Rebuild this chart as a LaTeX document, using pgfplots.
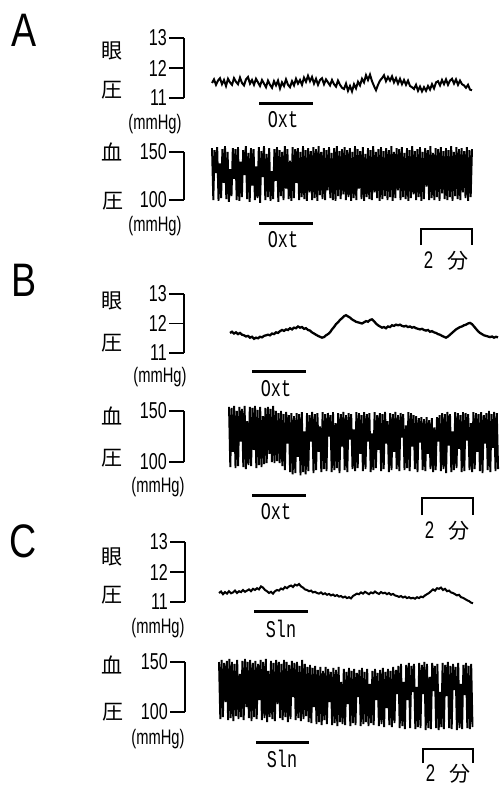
\documentclass[border=0pt]{standalone}
\usepackage{fontspec}
\usepackage{pgfplots}
\pgfplotsset{compat=1.18}
\setmainfont{Liberation Sans}
\newfontfamily\narrow[FakeStretch=0.7]{Liberation Sans}
\newfontfamily\mono[FakeStretch=0.7]{Liberation Mono}
\newfontfamily\cjk{Noto Sans CJK JP}
\newfontfamily\panelfont[FakeStretch=0.8]{Liberation Sans}
\pgfplotsset{
  bracket/.style={
    scale only axis, clip=false,
    axis x line=none, axis y line*=left,
    tick align=outside, major tick length=15pt,
    y axis line style={line width=1.1pt},
    tick style={line width=1.1pt, black},
    yticklabel style={font=\narrow\fontsize{23}{23}\selectfont, inner sep=2pt},
    /pgf/number format/assume math mode=true,
  },
  iop/.style={bracket, ymin=11, ymax=13, ytick={11,12,13}},
  bp/.style={bracket, ymin=100, ymax=150, ytick={100,150}},
  trI/.style={line width=2pt, black},
  trB/.style={line width=1.9pt, black},
}
\newcommand{\jp}[1]{{\cjk\fontsize{21}{21}\selectfont #1}}
\newcommand{\mm}{{\narrow\fontsize{21}{21}\selectfont (mmHg)}}
\newcommand{\lab}[1]{{\mono\fontsize{24}{24}\selectfont #1}}
\newcommand{\twomin}{{\narrow\fontsize{24}{24}\selectfont 2}\hspace{14pt}\jp{分}}
\begin{document}
\begin{tikzpicture}
\useasboundingbox (0,0) rectangle (499pt,-789pt);
% ---------------- Panel A ----------------
\begin{axis}[iop, at={(184pt,-98pt)}, anchor=south west, width=314pt, height=60pt, xmin=184, xmax=498]
\addplot[trI] table[header=false, row sep=\\, x expr=212+2*\coordindex, y index=0] {
11.50\\11.62\\11.44\\11.58\\11.66\\11.46\\11.60\\11.40\\11.64\\11.52\\
11.44\\11.66\\11.54\\11.46\\11.68\\11.50\\11.42\\11.62\\11.70\\11.48\\
11.60\\11.44\\11.64\\11.52\\11.40\\11.60\\11.48\\11.36\\11.58\\11.44\\
11.34\\11.56\\11.42\\11.58\\11.32\\11.52\\11.40\\11.62\\11.44\\11.36\\
11.56\\11.42\\11.64\\11.48\\11.60\\11.44\\11.68\\11.54\\11.74\\11.56\\
11.70\\11.48\\11.64\\11.44\\11.60\\11.66\\11.46\\11.62\\11.52\\11.42\\
11.60\\11.46\\11.38\\11.58\\11.44\\11.34\\11.30\\11.48\\11.24\\11.40\\
11.22\\11.46\\11.32\\11.54\\11.42\\11.64\\11.52\\11.76\\11.60\\11.78\\
11.56\\11.40\\11.26\\11.44\\11.58\\11.66\\11.76\\11.56\\11.70\\11.58\\
11.72\\11.52\\11.66\\11.48\\11.64\\11.46\\11.60\\11.44\\11.58\\11.40\\
11.36\\11.30\\11.44\\11.24\\11.38\\11.22\\11.36\\11.24\\11.40\\11.28\\
11.46\\11.32\\11.52\\11.56\\11.42\\11.60\\11.46\\11.62\\11.44\\11.58\\
11.64\\11.48\\11.62\\11.44\\11.58\\11.46\\11.42\\11.34\\11.44\\11.28\\
11.26\\};
\end{axis}
\begin{axis}[bp, at={(184pt,-200pt)}, anchor=south west, width=314pt, height=48pt, xmin=184, xmax=498]
\addplot[trB] table[header=false, row sep=\\, x expr=212+1.3*\coordindex, y index=0] {
154\\100\\152\\128\\155\\99\\138\\102\\153\\118\\
156\\101\\150\\98\\132\\104\\154\\122\\153\\100\\
155\\99\\140\\103\\152\\126\\156\\101\\149\\98\\
154\\115\\153\\100\\135\\102\\155\\97\\151\\124\\
156\\100\\148\\103\\154\\99\\130\\101\\153\\120\\
155\\98\\152\\104\\150\\100\\156\\112\\153\\101\\
141\\99\\155\\102\\153\\118\\154\\100\\150\\103\\
156\\101\\152\\99\\154\\108\\151\\100\\155\\102\\
153\\99\\156\\105\\150\\101\\154\\100\\152\\110\\
155\\102\\149\\100\\154\\99\\156\\104\\151\\101\\
153\\106\\155\\100\\152\\103\\154\\99\\150\\102\\
156\\100\\153\\112\\151\\101\\155\\99\\148\\103\\
154\\101\\152\\100\\156\\108\\150\\102\\153\\99\\
155\\101\\151\\104\\154\\100\\152\\103\\156\\99\\
150\\102\\154\\110\\153\\100\\155\\103\\149\\101\\
154\\99\\152\\102\\156\\106\\151\\100\\153\\103\\
155\\99\\150\\101\\154\\114\\152\\100\\156\\102\\
149\\100\\154\\103\\153\\99\\155\\107\\151\\101\\
154\\100\\152\\103\\156\\99\\150\\104\\155\\101\\
153\\100\\154\\108\\151\\102\\155\\99\\152\\103\\
153\\};
\end{axis}
% ---------------- Panel B ----------------
\begin{axis}[iop, at={(184pt,-353pt)}, anchor=south west, width=314pt, height=59pt, xmin=184, xmax=498]
\addplot[trI, line width=2.3pt] table[header=false, row sep=\\, x expr=230+2*\coordindex, y index=0] {
11.68\\11.72\\11.66\\11.70\\11.64\\11.68\\11.62\\11.60\\11.56\\11.58\\
11.52\\11.55\\11.48\\11.52\\11.50\\11.55\\11.53\\11.58\\11.60\\11.62\\
11.60\\11.66\\11.64\\11.70\\11.68\\11.74\\11.78\\11.75\\11.80\\11.78\\
11.84\\11.80\\11.86\\11.84\\11.90\\11.86\\11.88\\11.82\\11.84\\11.78\\
11.76\\11.70\\11.66\\11.62\\11.58\\11.55\\11.52\\11.54\\11.60\\11.64\\
11.70\\11.80\\11.88\\11.98\\12.04\\12.12\\12.18\\12.25\\12.28\\12.24\\
12.20\\12.14\\12.10\\12.06\\12.04\\12.02\\12.00\\12.04\\12.08\\12.06\\
12.12\\12.14\\12.08\\12.00\\11.94\\11.90\\11.86\\11.88\\11.84\\11.90\\
11.88\\11.94\\11.92\\11.96\\11.94\\11.96\\11.92\\11.90\\11.92\\11.88\\
11.90\\11.86\\11.88\\11.84\\11.82\\11.80\\11.82\\11.78\\11.76\\11.78\\
11.72\\11.74\\11.70\\11.68\\11.64\\11.62\\11.58\\11.55\\11.52\\11.56\\
11.62\\11.68\\11.74\\11.80\\11.84\\11.88\\11.90\\11.94\\11.96\\12.00\\
12.02\\11.98\\11.90\\11.82\\11.74\\11.68\\11.64\\11.60\\11.58\\11.56\\
11.54\\11.56\\11.52\\11.55\\11.53\\};
\end{axis}
\begin{axis}[bp, at={(184pt,-462pt)}, anchor=south west, width=314pt, height=51pt, xmin=184, xmax=498]
\addplot[trB] table[header=false, row sep=\\, x expr=229+1.3*\coordindex, y index=0] {
154\\95\\153\\110\\155\\94\\150\\96\\154\\120\\
152\\95\\155\\93\\140\\97\\154\\96\\153\\112\\
155\\94\\151\\97\\154\\95\\145\\98\\153\\99\\
154\\108\\152\\100\\155\\99\\150\\101\\148\\99\\
150\\96\\147\\92\\149\\118\\146\\90\\148\\88\\
145\\89\\148\\105\\147\\87\\149\\90\\130\\88\\
148\\91\\146\\120\\149\\89\\147\\92\\148\\110\\
135\\90\\149\\93\\147\\91\\148\\125\\146\\90\\
149\\92\\138\\94\\148\\89\\147\\115\\149\\92\\
146\\90\\148\\122\\147\\93\\132\\91\\149\\94\\
148\\108\\146\\91\\149\\93\\147\\120\\148\\90\\
128\\92\\149\\94\\146\\112\\148\\91\\147\\93\\
149\\118\\140\\90\\148\\92\\147\\110\\149\\93\\
146\\91\\148\\124\\147\\92\\136\\94\\149\\91\\
148\\115\\146\\93\\145\\90\\143\\119\\144\\92\\
142\\91\\144\\108\\141\\93\\143\\90\\134\\92\\
144\\120\\146\\91\\148\\93\\147\\89\\149\\116\\
147\\90\\130\\92\\149\\94\\148\\113\\146\\90\\
149\\91\\148\\121\\147\\92\\138\\90\\149\\93\\
148\\110\\147\\91\\149\\89\\146\\118\\148\\92\\
150\\90\\147\\114\\149\\91\\148\\93\\};
\end{axis}
% ---------------- Panel C ----------------
\begin{axis}[iop, at={(185pt,-602pt)}, anchor=south west, width=313pt, height=60pt, xmin=185, xmax=498]
\addplot[trI] table[header=false, row sep=\\, x expr=219+2*\coordindex, y index=0] {
11.30\\11.35\\11.26\\11.33\\11.28\\11.36\\11.29\\11.32\\11.38\\11.30\\
11.36\\11.33\\11.40\\11.34\\11.38\\11.42\\11.36\\11.44\\11.40\\11.46\\
11.42\\11.52\\11.48\\11.40\\11.36\\11.30\\11.34\\11.28\\11.36\\11.40\\
11.38\\11.45\\11.42\\11.50\\11.46\\11.52\\11.55\\11.50\\11.58\\11.55\\
11.60\\11.52\\11.48\\11.42\\11.40\\11.36\\11.38\\11.32\\11.34\\11.30\\
11.28\\11.32\\11.26\\11.29\\11.24\\11.27\\11.22\\11.25\\11.20\\11.23\\
11.18\\11.20\\11.15\\11.18\\11.13\\11.16\\11.12\\11.20\\11.24\\11.28\\
11.26\\11.32\\11.28\\11.34\\11.30\\11.26\\11.32\\11.29\\11.35\\11.30\\
11.27\\11.33\\11.29\\11.31\\11.26\\11.30\\11.24\\11.27\\11.22\\11.20\\
11.17\\11.20\\11.15\\11.18\\11.13\\11.16\\11.12\\11.14\\11.11\\11.16\\
11.13\\11.18\\11.16\\11.22\\11.26\\11.30\\11.36\\11.42\\11.38\\11.46\\
11.44\\11.48\\11.40\\11.44\\11.36\\11.38\\11.32\\11.30\\11.26\\11.22\\
11.24\\11.16\\11.14\\11.10\\11.06\\11.03\\10.98\\10.96\\};
\end{axis}
\begin{axis}[bp, at={(185pt,-712pt)}, anchor=south west, width=313pt, height=50pt, xmin=185, xmax=498]
\addplot[trB] table[header=false, row sep=\\, x expr=219+1.3*\coordindex, y index=0] {
150\\93\\152\\95\\149\\110\\151\\92\\153\\94\\
150\\91\\148\\96\\152\\93\\138\\95\\151\\92\\
153\\105\\150\\94\\152\\91\\149\\95\\151\\93\\
148\\112\\152\\92\\150\\94\\153\\90\\141\\95\\
151\\93\\149\\91\\152\\108\\150\\94\\148\\92\\
152\\95\\150\\90\\147\\93\\151\\115\\149\\92\\
150\\94\\146\\91\\152\\93\\148\\96\\145\\90\\
147\\89\\144\\105\\146\\88\\142\\90\\145\\87\\
141\\92\\145\\88\\143\\110\\140\\87\\144\\89\\
142\\86\\145\\90\\130\\88\\143\\87\\140\\108\\
144\\86\\141\\89\\143\\87\\139\\115\\142\\86\\
144\\88\\140\\90\\143\\86\\128\\89\\141\\87\\
143\\112\\139\\86\\142\\88\\144\\85\\140\\104\\
143\\87\\141\\85\\145\\89\\142\\118\\146\\84\\
148\\86\\130\\83\\147\\112\\149\\84\\146\\120\\
148\\83\\125\\85\\149\\84\\147\\118\\150\\82\\
148\\84\\135\\83\\149\\121\\146\\84\\148\\82\\
120\\85\\149\\83\\147\\116\\150\\84\\146\\83\\
148\\122\\145\\82\\149\\84\\128\\83\\147\\117\\
149\\84\\146\\83\\148\\85\\};
\end{axis}
% ---------------- annotations (pixel frame) ----------------
\begin{axis}[at={(0pt,-789pt)}, anchor=south west, scale only axis, width=499pt, height=789pt,
  xmin=0, xmax=499, ymin=-789, ymax=0, hide axis, clip=false]
% drug bars
\addplot[line width=3pt, black] coordinates {(259,-103) (313,-103)};
\addplot[line width=3pt, black] coordinates {(259,-223) (313,-223)};
\addplot[line width=3pt, black] coordinates {(252,-371) (306,-371)};
\addplot[line width=3pt, black] coordinates {(252,-495) (306,-495)};
\addplot[line width=3pt, black] coordinates {(254,-611) (308,-611)};
\addplot[line width=3pt, black] coordinates {(256,-742) (309,-742)};
% time scale bars
\addplot[line width=1.2pt, black] coordinates {(421,-245) (421,-229) (472,-229) (472,-245)};
\addplot[line width=1.2pt, black] coordinates {(422,-515) (422,-498) (473,-498) (473,-515)};
\addplot[line width=1.2pt, black] coordinates {(423,-763) (423,-749) (473,-749) (473,-763)};
% panel letters
\node[font=\panelfont\fontsize{47}{47}\selectfont] at (axis cs:24,-30) {A};
\node[font=\panelfont\fontsize{47}{47}\selectfont] at (axis cs:24,-280) {B};
\node[font=\panelfont\fontsize{47}{47}\selectfont] at (axis cs:23,-541) {C};
% japanese labels
\node at (axis cs:112,-51) {\jp{眼}};
\node at (axis cs:112,-90) {\jp{圧}};
\node at (axis cs:112,-152) {\jp{血}};
\node at (axis cs:113,-201) {\jp{圧}};
\node at (axis cs:112,-301) {\jp{眼}};
\node at (axis cs:112,-343) {\jp{圧}};
\node at (axis cs:112,-416) {\jp{血}};
\node at (axis cs:112,-458) {\jp{圧}};
\node at (axis cs:112,-557) {\jp{眼}};
\node at (axis cs:112,-595) {\jp{圧}};
\node at (axis cs:112,-665) {\jp{血}};
\node at (axis cs:113,-712) {\jp{圧}};
% units
\node at (axis cs:155,-124) {\mm};
\node at (axis cs:155,-226) {\mm};
\node at (axis cs:160,-377) {\mm};
\node at (axis cs:158,-487) {\mm};
\node at (axis cs:158,-628) {\mm};
\node at (axis cs:158,-739) {\mm};
% drug labels
\node at (axis cs:283,-120) {\lab{Oxt}};
\node at (axis cs:283,-240) {\lab{Oxt}};
\node at (axis cs:276,-389) {\lab{Oxt}};
\node at (axis cs:276,-512) {\lab{Oxt}};
\node at (axis cs:281,-629) {\lab{Sln}};
\node at (axis cs:282,-759) {\lab{Sln}};
% time scale labels
\node at (axis cs:446,-261) {\twomin};
\node at (axis cs:447,-531) {\twomin};
\node at (axis cs:448,-774) {\twomin};
\end{axis}
\end{tikzpicture}
\end{document}
